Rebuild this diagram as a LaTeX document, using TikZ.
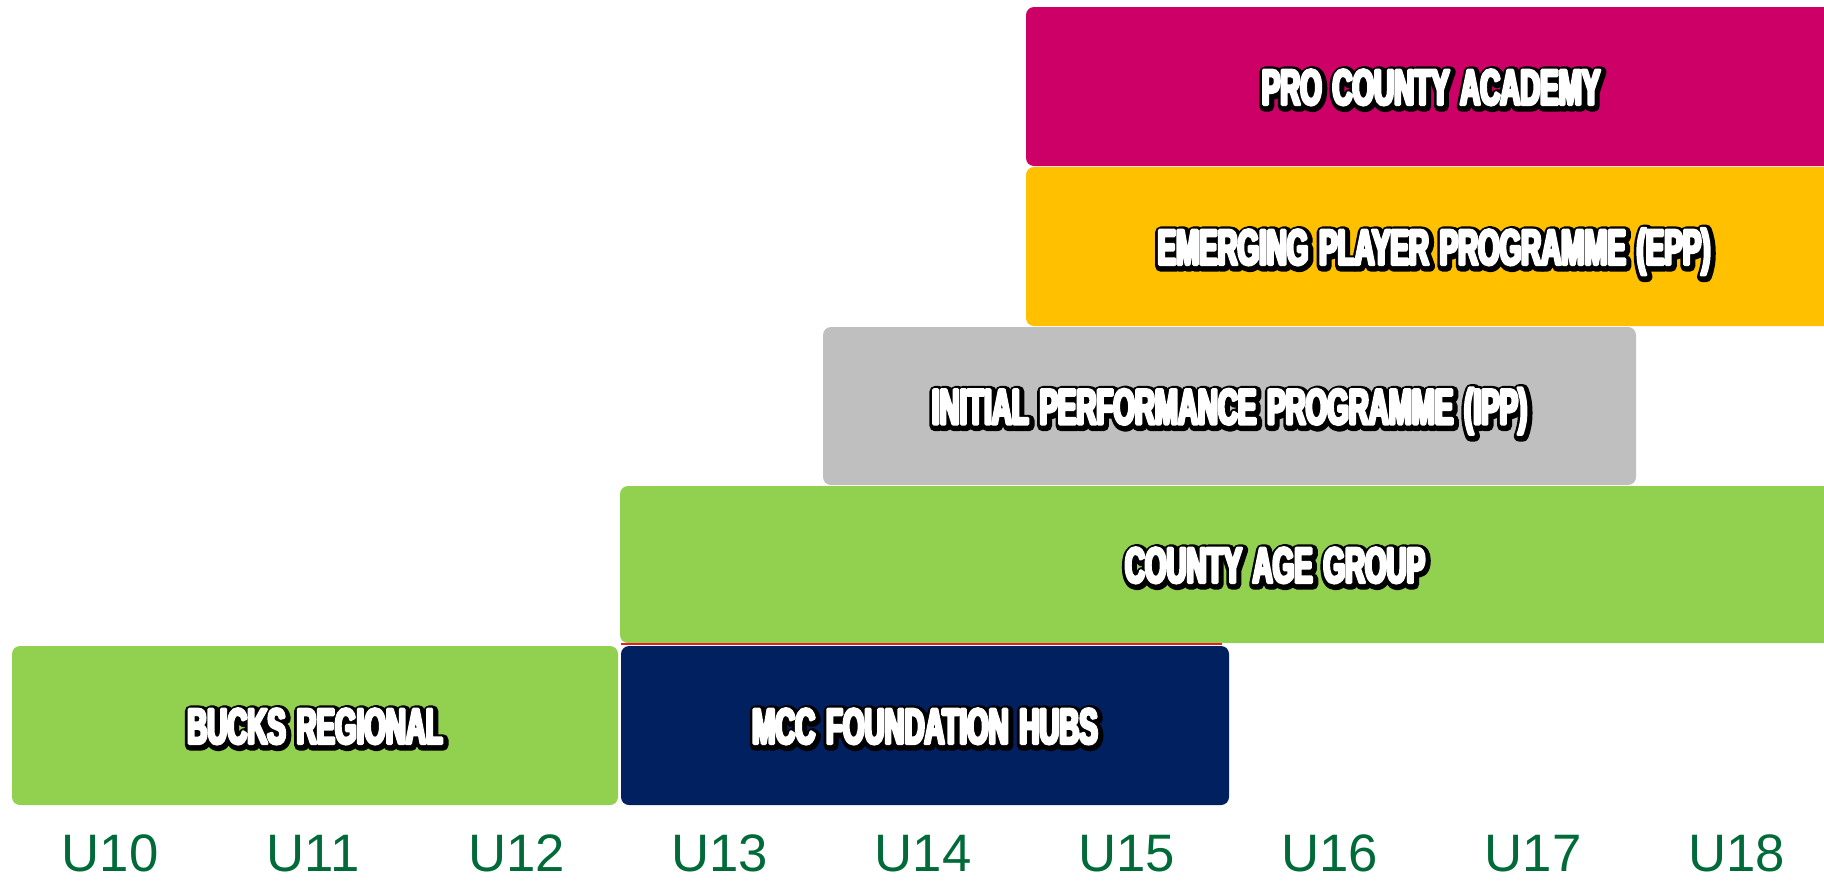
\documentclass[tikz,border=0pt]{standalone}
\usepackage{fontspec}
\setmainfont{Liberation Sans}
\newfontfamily\boxfont{Liberation Sans}[FakeStretch=0.555,WordSpace=1.4]
\definecolor{procol}{RGB}{204,0,102}
\definecolor{eppcol}{RGB}{255,192,0}
\definecolor{ippcol}{RGB}{191,191,191}
\definecolor{grncol}{RGB}{146,208,80}
\definecolor{navcol}{RGB}{0,32,96}
\definecolor{agegreen}{RGB}{0,106,56}
\definecolor{redline}{RGB}{230,30,40}
\newcommand\outl[1]{\leavevmode\rlap{\kern0.7pt\raisebox{-1pt}{\color{black}\special{pdf:literal direct 1 j 0 0 0 RG 6.2 w 2 Tr}#1}}\special{pdf:literal direct 1 j 1 1 1 RG 1.8 w 2 Tr}#1\special{pdf:literal direct 0 Tr}}
\tikzset{
  band/.style={rounded corners=0.16cm, inner sep=0pt, text=white,
    font=\boxfont\bfseries\fontsize{28.4}{30}\selectfont,
    text height=20.5pt, text depth=0pt},
  age/.style={anchor=base, inner sep=0pt, text depth=0pt, text=agegreen, font=\fontsize{30}{32}\selectfont},
  sep/.style={draw=redline, line width=0.05cm}
}
\begin{document}
\begin{tikzpicture}[x=0.02cm,y=-0.02cm]
\useasboundingbox (0,0) rectangle (1824,883);
\clip (0,0) rectangle (1824,883);
\node[band, fill=procol, minimum width=810*0.02cm, minimum height=159*0.02cm] (pro) at (1431,86.5) {\outl{PRO COUNTY ACADEMY}};
\node[band, fill=eppcol, minimum width=816*0.02cm, minimum height=159*0.02cm] (epp) at (1434,246.5) {\outl{EMERGING PLAYER PROGRAMME (EPP)}};
\node[band, fill=ippcol, minimum width=813*0.02cm, minimum height=158*0.02cm] (ipp) at (1229.5,406) {\outl{INITIAL PERFORMANCE PROGRAMME (IPP)}};
\node[band, fill=grncol, minimum width=1310*0.02cm, minimum height=157*0.02cm] (county) at (1275,564.5) {\outl{COUNTY AGE GROUP}};
\node[band, fill=grncol, minimum width=606*0.02cm, minimum height=159*0.02cm] (bucks) at (315,725.5) {\outl{BUCKS REGIONAL}};
\node[band, fill=navcol, minimum width=608*0.02cm, minimum height=159*0.02cm] (mcc) at (925,725.5) {\outl{MCC FOUNDATION HUBS}};
\draw[sep] ([yshift=0.03cm]mcc.north west) -- ([xshift=-0.14cm,yshift=0.03cm]mcc.north east);
\foreach \lab [count=\i from 0] in {U10,U11,U12,U13,U14,U15,U16,U17,U18}
  \node[age] (age\i) at (110+203.3*\i,871) {\lab};
\end{tikzpicture}
\end{document}
